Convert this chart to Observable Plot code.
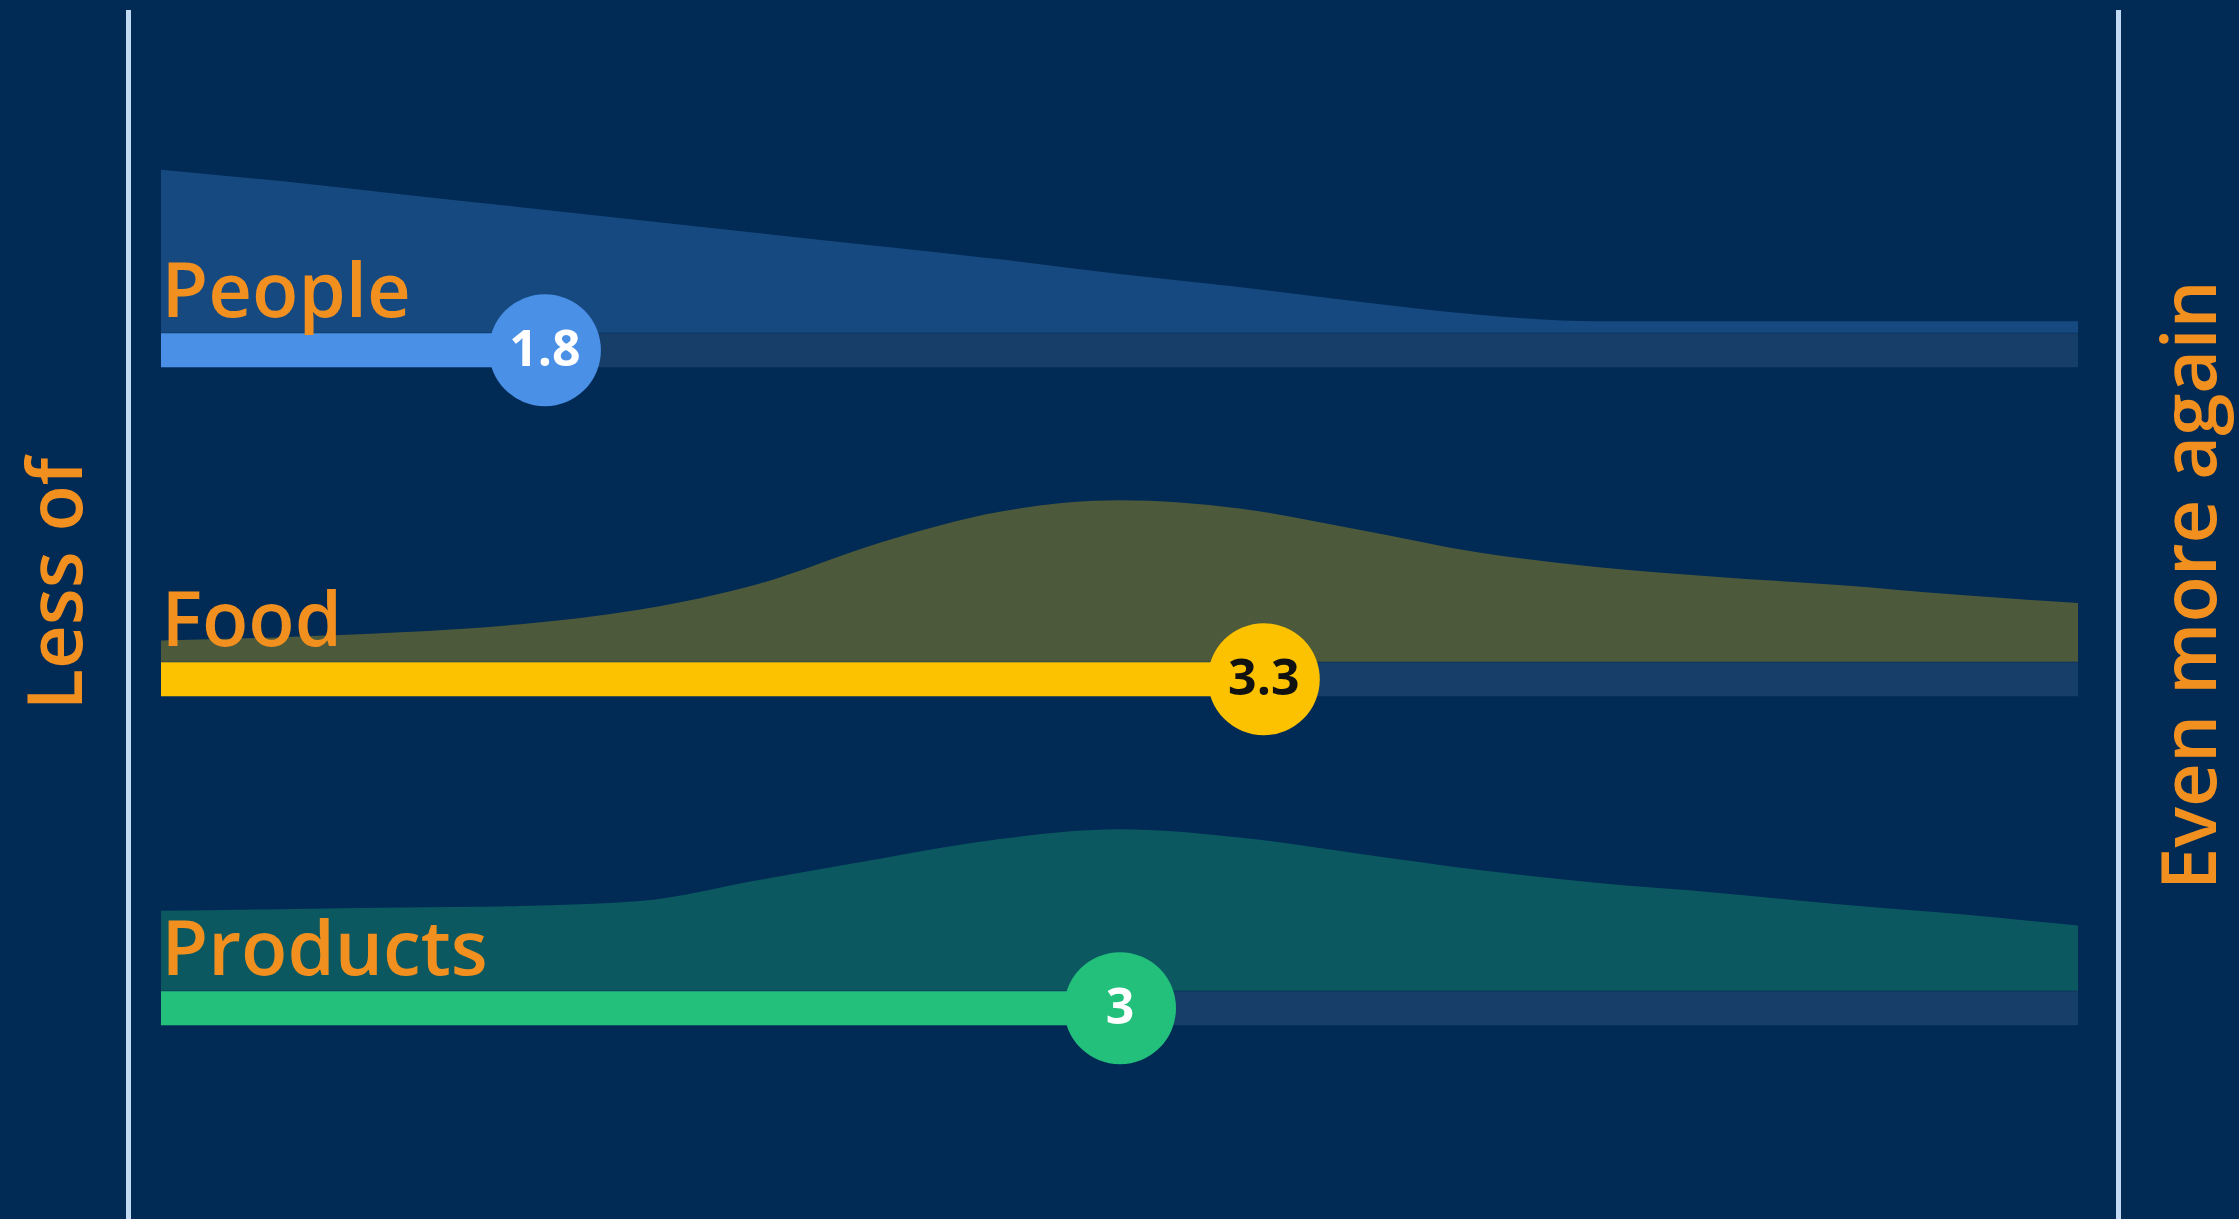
<!DOCTYPE html>
<html>
<head>
<meta charset="utf-8">
<script src="https://cdn.jsdelivr.net/npm/d3@7"></script>
<script src="https://cdn.jsdelivr.net/npm/@observablehq/plot@0.6"></script>
<style>
  html, body { margin: 0; padding: 0; background: #012b55; }
  #wrap { position: relative; width: 2239px; height: 1219px; overflow: hidden; background: #012b55; }
  #chart { position: absolute; left: 0; top: 0; }
  .vline { position: absolute; top: 10px; bottom: 0; width: 5px; background: #c2daf4; }
  .side { position: absolute; font-family: "Open Sans", sans-serif; font-weight: 600; font-size: 76px; line-height: 1; color: #f2901f; white-space: nowrap; writing-mode: vertical-rl; transform: translate(-50%, -50%) rotate(180deg); }
</style>
</head>
<body>
<div id="wrap">
  <div id="chart"></div>
  <div class="vline" style="left:126px"></div>
  <div class="vline" style="left:2116px"></div>
  <div class="side" style="left:53px; top:584px">Less of</div>
  <div class="side" style="left:2187px; top:585px">Even more again</div>
</div>
<script>
// ---- data ----
const categories = ["People", "Food", "Products"];
const scores = [1.8, 3.3, 3];
const scoreLabels = ["1.8", "3.3", "3"];
// answer scale positions where the distribution curves were read
const gridX = [1, 1.25, 1.5, 1.75, 2, 2.25, 2.5, 2.75, 3, 3.25, 3.5, 3.75, 4, 4.25, 4.5, 4.75, 5];
// relative share of answers (% of each row's peak)
const peopleDensity   = [100, 93, 85, 77, 69, 61, 53, 45, 36, 28, 19, 11, 7, 7, 7, 7, 7];
const foodDensity     = [13, 15, 18, 23, 32, 48, 73, 92, 99, 94, 81, 67, 58, 52, 47, 41, 36];
const productsDensity = [49, 50, 51, 52, 55, 68, 81, 93, 99, 94, 84, 74, 66, 60, 53, 47, 40];

const barColors = ["#4a90e6", "#fcc200", "#23c07c"];
const trackColor = "#163e68";
const labelColor = "#f2901f";

// ---- tables built from the arrays ----
const densities = [peopleDensity, foodDensity, productsDensity];
const rows = categories.map((c, i) => ({category: c, score: scores[i], label: scoreLabels[i]}));
const dens = categories.flatMap((c, i) => gridX.map((x, j) => ({category: c, x, d: densities[i][j]})));
const xMin = gridX[0], xMax = gridX[gridX.length - 1];

const barH = 34;

const chart = Plot.plot({
  width: 2239,
  height: 1219,
  marginLeft: 161,
  marginRight: 161,
  marginTop: 100,
  marginBottom: 132,
  style: {background: "transparent", overflow: "visible"},
  x: {domain: [xMin, xMax], axis: null},
  y: {domain: [-59.08, 142.76], axis: null},
  fy: {domain: categories, axis: null, padding: 0},
  color: {domain: categories, range: barColors},
  marks: [
    Plot.areaY(dens, {fy: "category", x: "x", y: "d", fill: "category", fillOpacity: 0.3, curve: "monotone-x"}),
    Plot.ruleY(rows, {fy: "category", y: 0, x1: xMin, x2: xMax, stroke: trackColor, strokeWidth: barH, dy: barH / 2}),
    Plot.ruleY(rows, {fy: "category", y: 0, x1: xMin, x2: "score", stroke: "category", strokeWidth: barH, dy: barH / 2}),
    Plot.dot(rows, {fy: "category", x: "score", y: 0, dy: barH / 2, r: 56, fill: "category"}),
    Plot.text(rows, {fy: "category", x: "score", y: 0, dy: barH / 2, text: "label",
      fill: d => d.category === "Food" ? "#111111" : "#ffffff",
      fontSize: 50, fontWeight: 700, fontFamily: "Open Sans, sans-serif"}),
    Plot.text(rows, {fy: "category", x: xMin, y: 0, dy: -16, text: "category", textAnchor: "start", lineAnchor: "bottom",
      fill: labelColor, fontSize: 76, fontWeight: 600, fontFamily: "Open Sans, sans-serif"})
  ]
});
document.getElementById("chart").appendChild(chart);
</script>
</body>
</html>
